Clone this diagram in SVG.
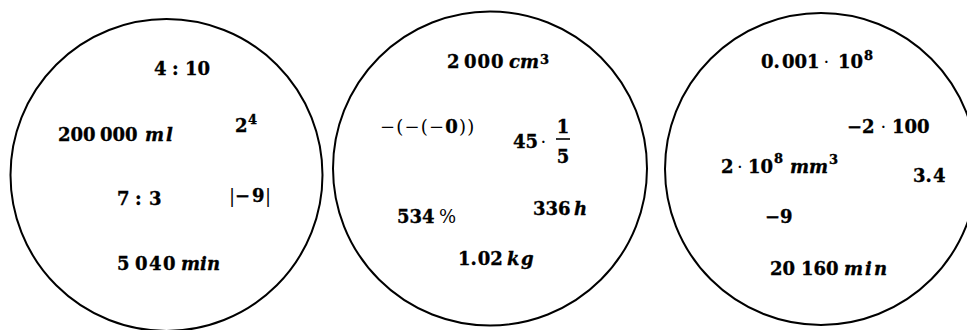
<svg xmlns="http://www.w3.org/2000/svg" width="967" height="330" viewBox="0 0 967 330">
<style>
.c{fill:none;stroke:#000;stroke-width:2}
text{font-family:"DejaVu Serif","Liberation Serif",serif;font-size:18px;font-weight:bold;fill:#000;stroke:#000;stroke-width:0.35}
.i{font-style:italic}
.r{font-weight:normal;stroke-width:0}
.s{font-size:13px}
.bar{stroke:#000;stroke-width:1.6}
</style>
<rect width="967" height="330" fill="#fff"/>
<g id="circle1">
<circle class="c" cx="166.5" cy="175" r="156"/>
<text x="154" y="75">4</text>
<text x="172" y="75">:</text>
<text x="185" y="75">10</text>
<text x="58" y="141">200</text>
<text x="100" y="141">000</text>
<text x="145" y="141" class="i" letter-spacing="2">ml</text>
<text x="235" y="132">2</text>
<text x="248" y="124" class="s">4</text>
<text x="229" y="202" class="r">|</text>
<text x="235" y="202">−</text>
<text x="252" y="202">9</text>
<text x="265" y="202" class="r">|</text>
<text x="117" y="205">7</text>
<text x="135" y="205">:</text>
<text x="149" y="205">3</text>
<text x="117" y="270">5</text>
<text x="135" y="270" letter-spacing="1.5">040</text>
<text x="181" y="270" class="i">min</text>
</g>
<g id="circle2">
<circle class="c" cx="490" cy="168.5" r="157"/>
<text x="447" y="68">2</text>
<text x="464" y="68" letter-spacing="1">000</text>
<text x="509" y="68" class="i">cm</text>
<text x="540" y="64" class="s">3</text>
<text x="380" y="133" letter-spacing="1.2" font-size="19"><tspan class="r">−(−(−</tspan>0<tspan class="r">))</tspan></text>
<text x="513" y="148">45</text>
<text x="540.5" y="148" class="r">·</text>
<text x="563" y="133" text-anchor="middle">1</text>
<line class="bar" x1="556" y1="139" x2="570" y2="139"/>
<text x="563" y="163" text-anchor="middle">5</text>
<text x="397" y="223">534</text>
<text x="439" y="223" class="r">%</text>
<text x="533" y="215">336</text>
<text x="574" y="215" class="i">h</text>
<text x="458" y="265">1.<tspan dx="1">02</tspan></text>
<text x="507" y="265" class="i" letter-spacing="1.5">kg</text>
</g>
<g id="circle3">
<circle class="c" cx="821" cy="169" r="156"/>
<text x="761" y="68">0.</text>
<text x="782" y="68">001</text>
<text x="823.5" y="68" class="r">·</text>
<text x="838" y="68">10</text>
<text x="864" y="60" class="s">8</text>
<text x="847" y="133">−2</text>
<text x="880.5" y="133" class="r">·</text>
<text x="892" y="133">100</text>
<text x="721" y="173">2</text>
<text x="737" y="173" class="r">·</text>
<text x="748" y="173">10</text>
<text x="774" y="163" class="s">8</text>
<text x="790" y="173" class="i">mm</text>
<text x="829" y="164" class="s">3</text>
<text x="913" y="182">3.</text>
<text x="933" y="182">4</text>
<text x="765" y="223">−9</text>
<text x="770" y="275">20</text>
<text x="801" y="275">160</text>
<text x="844" y="275" class="i" letter-spacing="2">min</text>
</g>
</svg>
